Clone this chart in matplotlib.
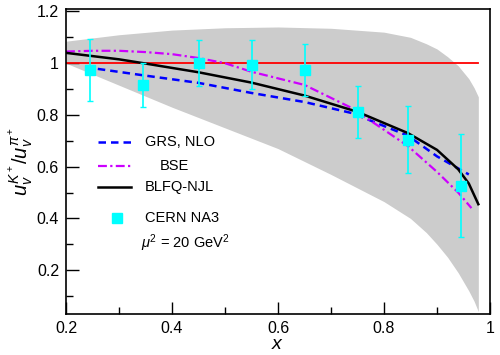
import numpy as np
import matplotlib
matplotlib.use('Agg')
import matplotlib.pyplot as plt

plt.rcParams['font.family'] = ['Liberation Sans', 'DejaVu Sans']
plt.rcParams['mathtext.fontset'] = 'custom'
plt.rcParams['mathtext.rm'] = 'Liberation Sans'
plt.rcParams['mathtext.it'] = 'Liberation Sans:italic'

# CERN NA3 data
x_na3 = [0.245, 0.345, 0.45, 0.55, 0.65, 0.75, 0.845, 0.945]
y_na3 = [0.975, 0.915, 1.0, 0.995, 0.975, 0.81, 0.705, 0.527]
err_na3 = [0.12, 0.085, 0.09, 0.095, 0.10, 0.10, 0.13, 0.20]

# uncertainty band
x_band = [0.2, 0.3, 0.4, 0.5, 0.6, 0.7, 0.8, 0.85, 0.88, 0.9, 0.92, 0.94, 0.96, 0.97, 0.978]
band_hi = [1.085, 1.11, 1.128, 1.137, 1.14, 1.135, 1.12, 1.1, 1.075, 1.055, 1.025, 0.99, 0.94, 0.905, 0.87]
band_lo = [1.0, 0.915, 0.83, 0.75, 0.67, 0.57, 0.465, 0.40, 0.345, 0.30, 0.25, 0.19, 0.12, 0.08, 0.04]

# BLFQ-NJL
x_blfq = [0.2, 0.3, 0.346, 0.45, 0.55, 0.65, 0.75, 0.845, 0.9, 0.94, 0.96, 0.978]
y_blfq = [1.04, 1.015, 1.0, 0.965, 0.925, 0.875, 0.812, 0.73, 0.665, 0.59, 0.535, 0.455]

# GRS, NLO
x_grs = [0.26, 0.35, 0.45, 0.55, 0.65, 0.74, 0.845, 0.9, 0.96]
y_grs = [0.978, 0.952, 0.924, 0.885, 0.85, 0.807, 0.72, 0.64, 0.57]

# BSE
x_bse = [0.2, 0.25, 0.3, 0.35, 0.4, 0.45, 0.5, 0.55, 0.65, 0.74, 0.845, 0.9, 0.94, 0.965]
y_bse = [1.045, 1.048, 1.048, 1.043, 1.035, 1.02, 1.0, 0.967, 0.916, 0.826, 0.68, 0.58, 0.50, 0.44]

fig = plt.figure(figsize=(5, 3.55), dpi=100)
ax = fig.add_axes([0.132, 0.115, 0.848, 0.86])

ax.fill_between(x_band, band_lo, band_hi, color='#cccccc', lw=0)
ax.plot([0.2, 0.977], [1, 1], color='red', lw=1.3)
ax.plot(x_grs, y_grs, color='#0000ff', lw=1.8, ls=(0, (3, 2)))
ax.plot(x_bse, y_bse, color='#cc00ff', lw=1.6, ls=(0, (4, 1.5, 1, 1.5)))
ax.plot(x_blfq, y_blfq, color='black', lw=1.8)
ax.errorbar(x_na3, y_na3, yerr=err_na3, fmt='s', color='#00ffff', ms=6.5,
            elinewidth=1.2, capsize=2, capthick=1)

# legend drawn by hand
tr = ax.transAxes
def ax_x(px):
    return (px - 66) / 424.0
def ax_y(py):
    return (314 - py) / 305.0
ax.plot([ax_x(98), ax_x(131)], [ax_y(142)] * 2, transform=tr, color='#0000ff', lw=1.8, ls=(0, (3, 2)))
ax.plot([ax_x(98), ax_x(131)], [ax_y(166)] * 2, transform=tr, color='#cc00ff', lw=1.6, ls=(0, (4, 1.5, 1, 1.5)))
ax.plot([ax_x(98), ax_x(131)], [ax_y(187)] * 2, transform=tr, color='black', lw=1.8)
ax.plot([ax_x(117)], [ax_y(218)], transform=tr, marker='s', color='#00ffff', ms=6.5, ls='none')
ax.text(ax_x(145), ax_y(142), 'GRS, NLO', transform=tr, va='center', fontsize=10.5)
ax.text(ax_x(160), ax_y(166), 'BSE', transform=tr, va='center', fontsize=10.5)
ax.text(ax_x(145), ax_y(187), 'BLFQ-NJL', transform=tr, va='center', fontsize=10.5)
ax.text(ax_x(145), ax_y(218), 'CERN NA3', transform=tr, va='center', fontsize=10.5)
ax.text(ax_x(141), ax_y(243), r'$\mu^2$ = 20 GeV$^2$', transform=tr, va='center', fontsize=10.5)

ax.set_xlim(0.2, 1.0)
ax.set_ylim(0.03, 1.21)
ax.set_xticks([0.2, 0.4, 0.6, 0.8, 1.0])
ax.set_xticklabels(['0.2', '0.4', '0.6', '0.8', '1'])
ax.set_xticks([0.3, 0.5, 0.7, 0.9], minor=True)
ax.set_yticks([0.2, 0.4, 0.6, 0.8, 1.0, 1.2])
ax.set_yticklabels(['0.2', '0.4', '0.6', '0.8', '1', '1.2'])
ax.set_yticks([0.1, 0.3, 0.5, 0.7, 0.9, 1.1], minor=True)
ax.tick_params(which='both', direction='in', top=False, right=False, labelsize=11.5, pad=5)
ax.tick_params(which='major', length=9, width=1)
ax.tick_params(which='minor', length=5, width=1)
for s in ax.spines.values():
    s.set_linewidth(1.2)

ax.set_xlabel(r'$x$', fontsize=14, labelpad=0)
ax.set_ylabel(r'$u_v^{K^+}/u_v^{\pi^+}$', fontsize=14.5, labelpad=1)

fig.savefig('out.png', dpi=100)
